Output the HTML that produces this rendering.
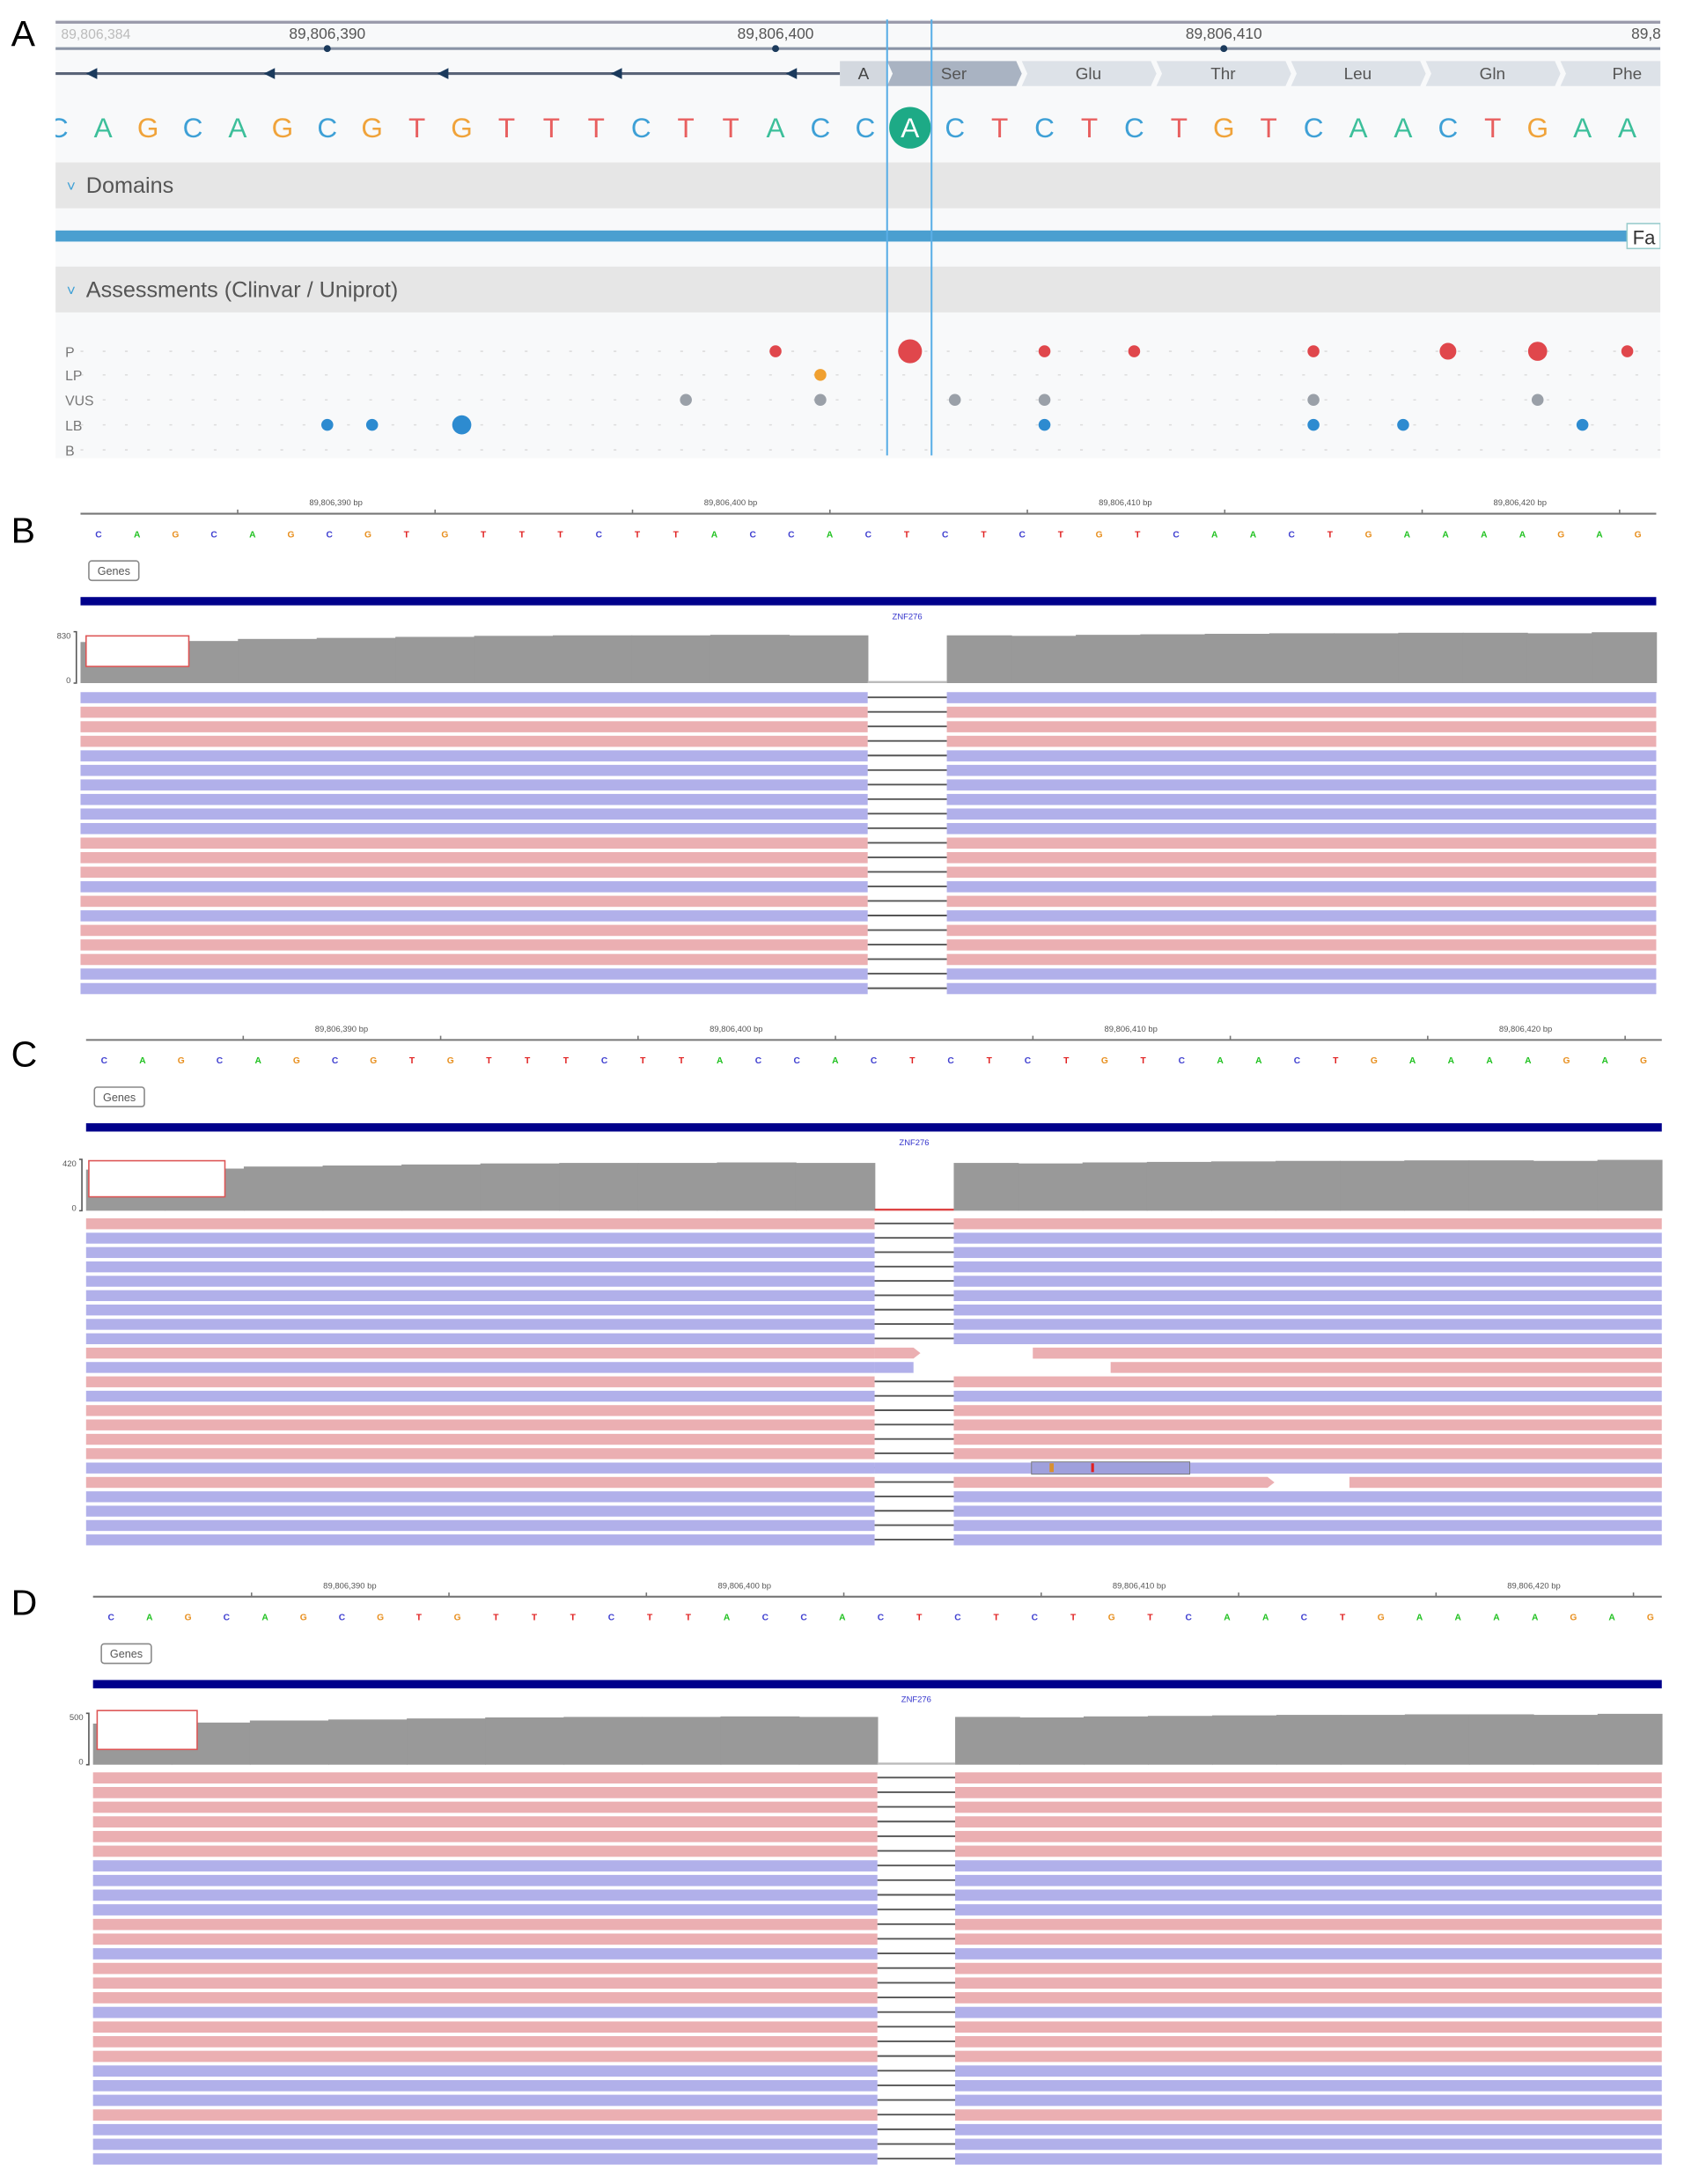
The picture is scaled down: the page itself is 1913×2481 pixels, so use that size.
<!DOCTYPE html>
<html><head><meta charset="utf-8"><style>
html,body{margin:0;padding:0;background:#fff}
svg{display:block}
text{font-family:"Liberation Sans",sans-serif}
</style></head><body>
<svg id="fig" xmlns="http://www.w3.org/2000/svg" width="1913" height="2481" viewBox="0 0 1213 1573" preserveAspectRatio="none">
<defs><clipPath id="clipA"><rect x="40" y="0" width="1156" height="340"/></clipPath></defs>
<rect x="0" y="0" width="1213" height="1573" fill="#fff"/>
<text x="8" y="33" font-size="26">A</text>
<text x="8" y="391" font-size="26">B</text>
<text x="8" y="768" font-size="26">C</text>
<text x="8" y="1163" font-size="26">D</text>
<g id="pa" clip-path="url(#clipA)"></g>
<g id="pb"></g>
<g id="pc"></g>
<g id="pd"></g>
</svg>
<script>
// ---- Panel A data ----
const seqA = "CAGCAGCGTGTTTCTTACCACTCTCTGTCAACTGAA".split("");
const rulerA = ["89,806,390","89,806,400","89,806,410"];
const rulerAIdx = [6,16,26];
const aminoA = ["Ser","Glu","Thr","Leu","Gln","Phe"];
const classRows = ["P","LP","VUS","LB","B"];
const dotsP = [16,19,22,24,28,31,33,35];
const dotsPSize = [1,2,1,1,1,1.4,1.6,1];
const dotsLP = [17];
const dotsVUS = [14,17,20,22,28,33];
const dotsLB = [6,7,9,22,28,30,34];
const dotsLBSize = [1,1,1.6,1,1,1,1];
// ---- IGV data ----
const seqIGV = "CAGCAGCGTGTTTCTTACCACTCTCTGTCAACTGAAAAGAG".split("");
const igvTicks = ["89,806,390 bp","89,806,400 bp","89,806,410 bp","89,806,420 bp"];
const readsB = "BPPPBBBBBBPPPBPBPPPBB".split("");
const readsC = "PBBBBBBBBPBPBPPPPBPBBBB".split("");
const readsD = "PPPPPPBBBBPPBPPPBPPPBBBPBBB".split("");
const covMax = ["830","420","500"];
const covLeft = [0.80,0.82,0.86,0.88,0.90,0.92,0.93,0.93,0.94,0.93];
const covRight = [0.93,0.92,0.94,0.95,0.96,0.97,0.97,0.98,0.98,0.97,0.99];

const NS="http://www.w3.org/2000/svg";
function mk(tag,attrs,parent,txt){const e=document.createElementNS(NS,tag);for(const k in attrs)e.setAttribute(k,attrs[k]);if(txt!==undefined)e.textContent=txt;parent.appendChild(e);return e;}
const colA={A:"#3cbf9a",C:"#3ea0d6",G:"#f0a33a",T:"#e85f5f"};
const colI={A:"#1fc11f",C:"#4040d0",G:"#e89020",T:"#e02020"};

// Panel A
(function(){
 const g=document.getElementById('pa');
 const X=i=>42+i*32.29;
 mk('rect',{x:40,y:14,width:1156,height:316,fill:'#f8f9fa'},g);
 mk('line',{x1:40,y1:16,x2:1196,y2:16,stroke:'#99a',"stroke-width":2},g);
 mk('line',{x1:40,y1:35,x2:1196,y2:35,stroke:'#8a94a6',"stroke-width":2},g);
 let t=mk('text',{x:44,y:28,"font-size":10,fill:'#bbb'},g,"89,806,384");
 
 
 rulerA.forEach((r,k)=>{const x=X(rulerAIdx[k]);
  const l=mk('text',{x:x,y:28,"font-size":11,fill:'#555',"text-anchor":'middle'},g,r);
  
  
  mk('circle',{cx:x,cy:35,r:2.5,fill:'#1b3a5c'},g);});
 mk('text',{x:1175,y:28,"font-size":11,fill:'#555'},g,"89,8");
 mk('line',{x1:40,y1:53,x2:605,y2:53,stroke:'#5a6478',"stroke-width":2},g);
 [62,190,315,440,566].forEach(x=>mk('path',{d:`M${x} 53 l8 -4 v8z`,fill:'#1b3a5c'},g));
 mk('rect',{x:605,y:44,width:34,height:18,fill:'#d3d8df'},g);
 mk('text',{x:622,y:57,"font-size":12,fill:'#444',"text-anchor":'middle'},g,"A");
 aminoA.forEach((a,k)=>{const x0=639+k*97;
  const b=mk('path',{d:`M${x0} 44 h93 l4 9 l-4 9 h-93 l4 -9z`,fill:k==0?'#a9b3c2':'#dde2e8'},g);
  
  
  mk('text',{x:x0+48,y:57,"font-size":12,fill:'#555',"text-anchor":'middle'},g,a);});
 seqA.forEach((c,i)=>{
  const x=X(i);
  if(i==19){mk('circle',{cx:x,cy:92,r:15,fill:'#1daa86'},g);}
  const e=mk('text',{x:x,y:99,"font-size":20,fill:i==19?'#fff':colA[c],"text-anchor":'middle'},g,c);
  
  });
 mk('rect',{x:40,y:117,width:1156,height:33,fill:'#e6e6e6'},g);
 mk('text',{x:48,y:138,"font-size":11,fill:'#3ea0d6'},g,"˅");
 t=mk('text',{x:62,y:139,"font-size":16,fill:'#555'},g,"Domains");
 
 
 mk('rect',{x:40,y:166,width:1132,height:8,fill:'#4a9fd0'},g);
 mk('rect',{x:1172,y:161,width:24,height:18,fill:'#fff',stroke:'#9cc'},g);
 mk('text',{x:1176,y:176,"font-size":14,fill:'#333'},g,"Fa");
 mk('rect',{x:40,y:192,width:1156,height:33,fill:'#e6e6e6'},g);
 mk('text',{x:48,y:213,"font-size":11,fill:'#3ea0d6'},g,"˅");
 t=mk('text',{x:62,y:214,"font-size":16,fill:'#555'},g,"Assessments (Clinvar / Uniprot)");
 
 
 const rowY=[253,270,288,306,324];
 classRows.forEach((r,k)=>{
  mk('line',{x1:58,y1:rowY[k],x2:1196,y2:rowY[k],stroke:'#ddd',"stroke-dasharray":'2 14'},g);
  const l=mk('text',{x:47,y:rowY[k]+4,"font-size":10,fill:'#777'},g,r);
  
  });
 function dots(arr,sz,row,col,nm){arr.forEach((i,k)=>{const d=mk('circle',{cx:X(i),cy:rowY[row],r:4.3*(sz?sz[k]:1),fill:col},g);
  
  });}
 dots(dotsP,dotsPSize,0,'#e0474c','dot-pathogenic');
 dots(dotsLP,null,1,'#f0a030','dot-likely-pathogenic');
 dots(dotsVUS,null,2,'#9aa0a8','dot-vus');
 dots(dotsLB,dotsLBSize,3,'#2d8bd0','dot-likely-benign');
 mk('line',{x1:639,y1:14,x2:639,y2:328,stroke:'#5aaee6',"stroke-width":1.3},g);
 mk('line',{x1:671,y1:14,x2:671,y2:328,stroke:'#5aaee6',"stroke-width":1.3},g);
})();

// IGV panels
function igv(id,p){
 const g=document.getElementById(id);
 const X=i=>p.seqX+i*27.72;
 mk('line',{x1:p.x0,y1:p.ry,x2:p.x1,y2:p.ry,stroke:'#777',"stroke-width":1.3},g);
 for(let k=0;k<9;k++){const x=p.lx-142*1+k*142.2-71;
  if(x>p.x0&&x<p.x1) mk('line',{x1:x,y1:p.ry-3,x2:x,y2:p.ry,stroke:'#777'},g);}
 igvTicks.forEach((t,k)=>{const l=mk('text',{x:p.lx+k*284.3,y:p.ry-6,"font-size":6,fill:'#555',"text-anchor":'middle'},g,t);
  
  });
 seqIGV.forEach((c,i)=>{mk('text',{x:X(i),y:p.ry+17,"font-size":6.5,"font-weight":'bold',fill:colI[c],"text-anchor":'middle'},g,c);});
 const gb=mk('rect',{x:p.x0+6,y:p.ry+34,width:36,height:14,fill:'#fff',stroke:'#888',rx:2},g);
 
 
 mk('text',{x:p.x0+24,y:p.ry+44,"font-size":8,fill:'#555',"text-anchor":'middle'},g,"Genes");
 const gene=mk('rect',{x:p.x0,y:p.ry+60,width:p.x1-p.x0,height:6,fill:'#00008b'},g);
 
 
 mk('text',{x:(p.gx0+p.gx1)/2,y:p.ry+76,"font-size":6,fill:'#33c',"text-anchor":'middle'},g,"ZNF276");
 const cy0=p.cy,ch=37,cb=cy0+ch;
 const wl=(p.gx0-p.x0)/covLeft.length;
 covLeft.forEach((v,k)=>{const r=mk('rect',{x:p.x0+k*wl,y:cb-ch*v,width:wl+0.5,height:ch*v,fill:'#999'},g);
  
  });
 const wr=(p.x1-p.gx1)/covRight.length;
 covRight.forEach((v,k)=>{const r=mk('rect',{x:p.gx1+k*wr,y:cb-ch*v,width:wr+0.5,height:ch*v,fill:'#999'},g);
  
  });
 mk('rect',{x:p.gx0,y:cb-1.5,width:p.gx1-p.gx0,height:1.5,fill:p.redgap?'#d44':'#bbb'},g);
 mk('path',{d:`M${p.x0-5} ${cy0} h2 v${ch} h-2`,fill:'none',stroke:'#555'},g);
 mk('text',{x:p.x0-7,y:cy0+5,"font-size":6,fill:'#555',"text-anchor":'end'},g,p.max);
 mk('text',{x:p.x0-7,y:cb,"font-size":6,fill:'#555',"text-anchor":'end'},g,"0");
 mk('rect',{x:p.bx,y:p.by,width:p.bw,height:p.bh,fill:'#fff',stroke:'#d55',"stroke-width":1},g);
 const rh=(p.re-p.rs)/p.reads.length;
 p.reads.forEach((s,k)=>{const y=p.rs+k*rh;const col=s=='P'?'#ebafb2':'#b1b0ea';
  const a=mk('rect',{x:p.x0,y:y+1.5,width:p.gx0-p.x0,height:rh-2.5,fill:col},g);
  
  
  const b=mk('rect',{x:p.gx1,y:y+1.5,width:p.x1-p.gx1,height:rh-2.5,fill:col},g);
  
  
  mk('line',{x1:p.gx0,y1:y+rh/2,x2:p.gx1,y2:y+rh/2,stroke:'#555',"stroke-width":1.2},g);
  if(p.special&&p.special[k]) p.special[k](g,y,rh,col);
 });
}
igv('pb',{x0:58,x1:1193,ry:370,lx:242,seqX:71,gx0:625,gx1:682,cy:455,bx:62,by:458,bw:74,bh:22,rs:497,re:717,reads:readsB,max:covMax[0]});
igv('pc',{x0:62,x1:1197,ry:749,lx:246,seqX:75,gx0:630,gx1:687,cy:835,bx:64,by:836,bw:98,bh:26,rs:876,re:1114,reads:readsC,max:covMax[1],redgap:true,
 special:{9:(g,y,h,c)=>{mk('rect',{x:630,y:y,width:114,height:h,fill:'#fff'},g);mk('path',{d:`M630 ${y+1.5} h28 l5 ${(h-2.5)/2} l-5 ${(h-2.5)/2} h-28z`,fill:c},g);mk('rect',{x:744,y:y+1.5,width:453,height:h-2.5,fill:c},g);},
  10:(g,y,h,c)=>{mk('rect',{x:630,y:y,width:567,height:h,fill:'#fff'},g);mk('rect',{x:630,y:y+1.5,width:28,height:h-2.5,fill:c},g);mk('rect',{x:800,y:y+1.5,width:397,height:h-2.5,fill:'#ebafb2'},g);},
  17:(g,y,h,c)=>{mk('rect',{x:630,y:y+1.5,width:567,height:h-2.5,fill:c},g);mk('rect',{x:743,y:y+1,width:114,height:h-1.5,fill:'#9fa0dc',stroke:'#777',"stroke-width":0.6},g);mk('rect',{x:756,y:y+2,width:3,height:h-4,fill:'#d89030'},g);mk('rect',{x:786,y:y+2,width:2,height:h-4,fill:'#e02020'},g);},
  18:(g,y,h,c)=>{mk('rect',{x:687,y:y,width:510,height:h,fill:'#fff'},g);mk('path',{d:`M687 ${y+1.5} h226 l5 ${(h-2.5)/2} l-5 ${(h-2.5)/2} h-226z`,fill:c},g);mk('rect',{x:972,y:y+1.5,width:225,height:h-2.5,fill:c},g);}}});
igv('pd',{x0:67,x1:1197,ry:1150,lx:252,seqX:80,gx0:632,gx1:688,cy:1234,bx:70,by:1232,bw:72,bh:28,rs:1275,re:1560,reads:readsD,max:covMax[2]});
</script>
</body></html>
